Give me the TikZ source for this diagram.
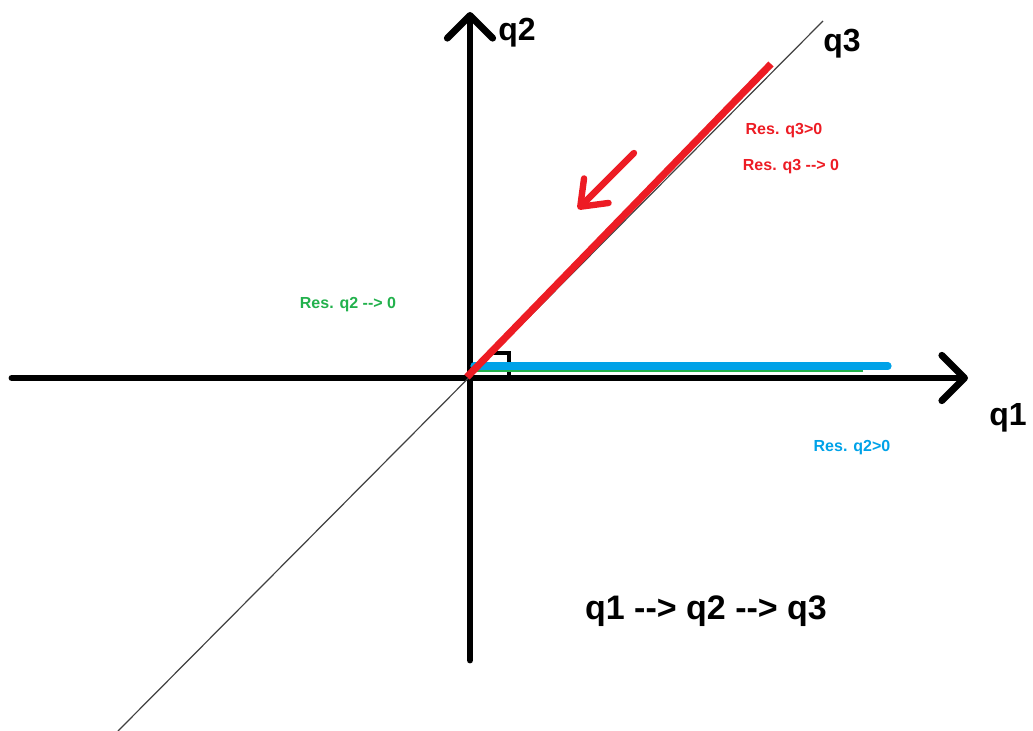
\documentclass[tikz,border=0pt]{standalone}
\usepackage{fontspec}
\setmainfont{Liberation Sans}[Ligatures=TeXOff]
\usetikzlibrary{arrows.meta}

\definecolor{paintred}{RGB}{237,28,36}
\definecolor{paintblue}{RGB}{0,162,232}
\definecolor{paintgreen}{RGB}{34,177,76}

\begin{document}
\begin{tikzpicture}[x=0.75pt, y=-0.75pt,
  axis/.style={line width=5.2pt, line cap=round, -{Straight Barb[length=17pt,width=34pt,round]}},
  ray/.style={line width=5.4pt},
  axislabel/.style={font=\bfseries\fontsize{24}{28}\selectfont, inner sep=0pt},
  reslabel/.style={font=\bfseries\fontsize{12}{14}\selectfont, inner sep=0pt}]
  \useasboundingbox (0,0) rectangle (1033,731);

  % points of the sketch
  \coordinate (O) at (470,378);
  \coordinate (q1left) at (12,378);
  \coordinate (q1tip) at (968,378);
  \coordinate (q2low) at (470,660);
  \coordinate (q2tip) at (470,12);
  \coordinate (q3low) at (118,731);
  \coordinate (q3high) at (823,21);

  % axes
  \draw[axis] (q1left) -- (q1tip);
  \draw[axis] (q2low) -- (q2tip);
  \draw[line width=0.9pt, black!75] (q3low) -- (q3high);

  % right angle mark
  \coordinate (mark1) at (490,353);
  \coordinate (mark2) at (509,353);
  \coordinate (mark3) at (509,375);
  \draw[line width=2.6pt] (mark1) -- (mark2) -- (mark3);

  % residual paths
  \coordinate (greenA) at (474,371);
  \coordinate (greenB) at (863,371);
  \coordinate (blueA) at (474,366);
  \coordinate (blueB) at (888,366);
  \coordinate (redA) at (467,377);
  \coordinate (redB) at (771,64);
  \draw[line width=1.6pt, paintgreen] (greenA) -- (greenB);
  \draw[ray, paintblue, line cap=round] (blueA) -- (blueB);
  \draw[ray, paintred] (redA) -- (redB);

  % direction arrow
  \coordinate (dirA) at (634,153);
  \coordinate (dirB) at (578,209);
  \draw[line width=4.8pt, paintred, line cap=round,
        -{Straight Barb[length=17pt,width=26pt,round]}] (dirA) -- (dirB);

  % labels
  \node[axislabel] (q2lab) at (517,33) {q2};
  \node[axislabel] (q3lab) at (842,44) {q3};
  \node[axislabel] (q1lab) at (1008,418) {q1};
  \node[reslabel, paintred] (resq3a) at (784,131) {Res. q3>0};
  \node[reslabel, paintred] (resq3b) at (791,167) {Res. q3 --> 0};
  \node[reslabel, paintgreen] (resq2a) at (348,305) {Res. q2 --> 0};
  \node[reslabel, paintblue] (resq2b) at (852,448) {Res. q2>0};
  \node[font=\bfseries\fontsize{25.5}{30}\selectfont, inner sep=0pt] (order) at (706,611) {q1 --> q2 --> q3};
\end{tikzpicture}
\end{document}
